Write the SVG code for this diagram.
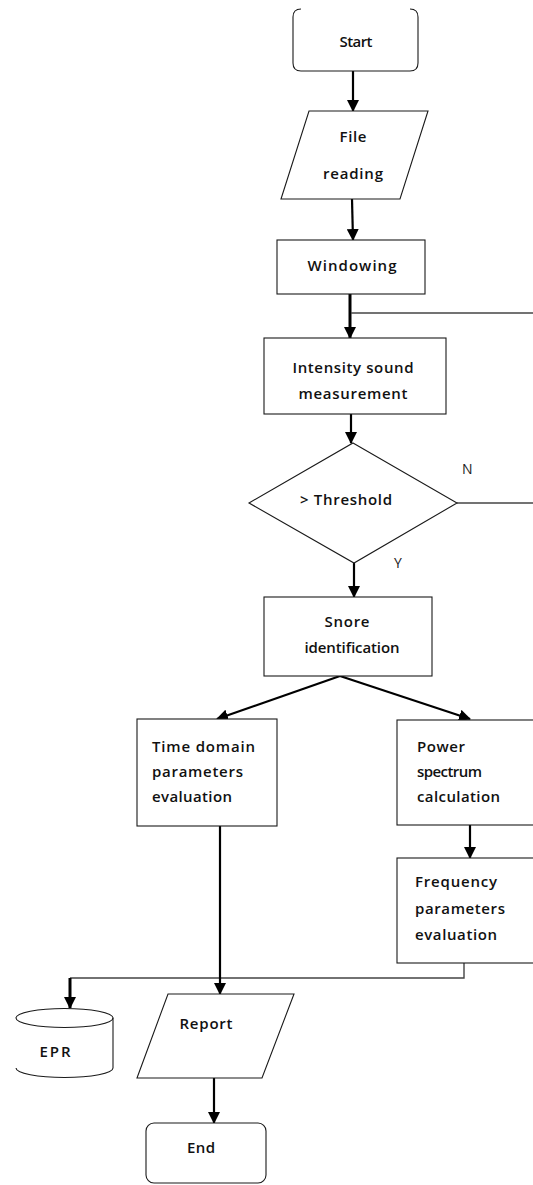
<svg xmlns="http://www.w3.org/2000/svg" width="533" height="1185" viewBox="0 0 533 1185">
<style>
.shape{fill:#fff;stroke:#1a1a1a;stroke-width:1.1}
.t{font-family:"Open Sans","Noto Sans",sans-serif;font-size:15px;font-weight:600;fill:#111}
.lbl{font-family:"Open Sans","Noto Sans",sans-serif;font-size:14px;font-weight:400;fill:#222}
.c{text-anchor:middle}
.thin{fill:none;stroke:#444;stroke-width:1.4}
.arr{fill:none;stroke:#000;stroke-width:2.2}
.thick{fill:none;stroke:#000;stroke-width:3}
</style>
<defs>
<marker id="ah" markerUnits="userSpaceOnUse" markerWidth="12" markerHeight="12" refX="11" refY="6" orient="auto">
<path d="M0,0 L12,6 L0,12 z" fill="#000"/>
</marker>
</defs>
<rect width="533" height="1185" fill="#fff"/>
<g id="connectors">
<line class="arr" x1="353" y1="71" x2="353" y2="111" marker-end="url(#ah)"/>
<line class="arr" x1="352" y1="199" x2="353" y2="240" marker-end="url(#ah)"/>
<line class="thick" x1="350" y1="294" x2="350" y2="338" marker-end="url(#ah)"/>
<line class="thin" x1="351" y1="313" x2="533" y2="313" stroke="#666"/>
<line class="arr" x1="351" y1="414" x2="351" y2="443" marker-end="url(#ah)"/>
<line class="thin" x1="457" y1="503" x2="533" y2="503"/>
<line class="arr" x1="354" y1="563" x2="354" y2="597" marker-end="url(#ah)"/>
<line class="arr" x1="340" y1="676" x2="217" y2="719" marker-end="url(#ah)"/>
<line class="arr" x1="340" y1="676" x2="470" y2="719" marker-end="url(#ah)"/>
<line class="arr" x1="470" y1="825" x2="470" y2="858" marker-end="url(#ah)"/>
<polyline class="thin" points="464,963 464,978 70,978"/>
<line class="thick" x1="70" y1="978" x2="70" y2="1008" marker-end="url(#ah)"/>
<line class="arr" x1="220" y1="826" x2="220" y2="994" marker-end="url(#ah)"/>
<line class="arr" x1="214" y1="1078" x2="214" y2="1123" marker-end="url(#ah)"/>
</g>
<g id="start">
<path class="shape" fill="none" d="M301,9 Q293,9 293,17 L293,63 Q293,71 301,71 L410,71 Q418,71 418,63 L418,17 Q418,9 410,9"/>
<text class="t c" x="356" y="47" textLength="33">Start</text>
</g>
<g id="file-reading">
<polygon class="shape" points="309,111 428,111 400,199 281,199"/>
<text class="t c" x="353" y="142" textLength="27">File</text>
<text class="t c" x="353" y="179" textLength="60">reading</text>
</g>
<g id="windowing">
<rect class="shape" x="277" y="240" width="148" height="54"/>
<text class="t c" x="352" y="271" textLength="89">Windowing</text>
</g>
<g id="intensity">
<rect class="shape" x="264" y="338" width="182" height="76"/>
<text class="t c" x="353" y="373" textLength="121">Intensity sound</text>
<text class="t c" x="353" y="399" textLength="109">measurement</text>
</g>
<g id="threshold">
<polygon class="shape" points="353,443 457,503 354,563 249,503"/>
<text class="t c" x="346" y="505" textLength="92">&gt; Threshold</text>
<text class="lbl" x="462" y="474">N</text>
<text class="lbl" x="394" y="568">Y</text>
</g>
<g id="snore">
<rect class="shape" x="264" y="597" width="168" height="79"/>
<text class="t c" x="347" y="627" textLength="45">Snore</text>
<text class="t c" x="352" y="653" textLength="95">identification</text>
</g>
<g id="time-domain">
<rect class="shape" x="137" y="719" width="140" height="107"/>
<text class="t" x="152" y="752" textLength="103">Time domain</text>
<text class="t" x="152" y="777" textLength="91">parameters</text>
<text class="t" x="152" y="802" textLength="80">evaluation</text>
</g>
<g id="power-spectrum">
<rect class="shape" x="397" y="720" width="140" height="105"/>
<text class="t" x="417" y="752" textLength="48">Power</text>
<text class="t" x="417" y="777" textLength="65">spectrum</text>
<text class="t" x="417" y="802" textLength="83">calculation</text>
</g>
<g id="frequency">
<rect class="shape" x="397" y="858" width="140" height="105"/>
<text class="t" x="415" y="887" textLength="82">Frequency</text>
<text class="t" x="415" y="914" textLength="90">parameters</text>
<text class="t" x="415" y="940" textLength="82">evaluation</text>
</g>
<g id="epr">
<ellipse class="shape" cx="64.5" cy="1018" rx="48.5" ry="9.5"/>
<line class="shape" x1="113" y1="1018" x2="113" y2="1068"/>
<path class="shape" fill="none" d="M16,1068 A48.5,9.5 0 0 0 113,1068"/>
<text class="t c" x="55" y="1057" textLength="31">EPR</text>
</g>
<g id="report">
<polygon class="shape" points="168,994 294,994 262,1078 137,1078"/>
<text class="t c" x="206" y="1029" textLength="53">Report</text>
</g>
<g id="end">
<rect class="shape" x="146" y="1123" width="120" height="60" rx="8"/>
<text class="t c" x="201" y="1153" textLength="28">End</text>
</g>
</svg>
